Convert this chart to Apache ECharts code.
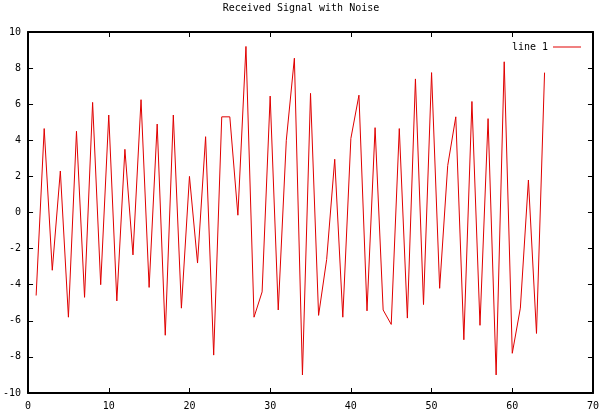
<!DOCTYPE html>
<html>
<head>
<meta charset="utf-8">
<script src="https://cdn.jsdelivr.net/npm/echarts@6/dist/echarts.min.js"></script>
<style>html,body{margin:0;padding:0;background:#fff;}#c{width:602px;height:416px;}</style>
</head>
<body>
<div id="c"></div>
<script>
var titleText = 'Received Signal with Noise';
var seriesName = 'line 1';
var xs = [1,2,3,4,5,6,7,8,9,10,11,12,13,14,15,16,17,18,19,20,21,22,23,24,25,26,27,28,29,30,31,32,
          33,34,35,36,37,38,39,40,41,42,43,44,45,46,47,48,49,50,51,52,53,54,55,56,57,58,59,60,61,62,63,64];
var ys = [-4.6,4.65,-3.2,2.3,-5.8,4.5,-4.7,6.1,-4.0,5.4,-4.9,3.5,-2.35,6.25,-4.15,4.9,
          -6.8,5.4,-5.3,2.0,-2.8,4.2,-7.9,5.3,5.3,-0.15,9.2,-5.8,-4.4,6.45,-5.4,4.0,
          8.55,-9.0,6.6,-5.7,-2.6,2.95,-5.8,4.1,6.5,-5.45,4.7,-5.4,-6.2,4.65,-5.85,7.4,
          -5.1,7.75,-4.2,2.6,5.3,-7.05,6.15,-6.25,5.2,-9.0,8.35,-7.8,-5.3,1.8,-6.7,7.75];
var xMin = 0, xMax = 70, xStep = 10;
var yMin = -10, yMax = 10, yStep = 2;

var data = xs.map(function(x, i){ return [x, ys[i]]; });
var font = 'DejaVu Sans Mono';
var axisLine = {show: true, onZero: false, lineStyle: {color: '#000', width: 2}};
var tick = {show: true, inside: true, length: 5, lineStyle: {color: '#000', width: 1}};
var chart = echarts.init(document.getElementById('c'), null, {renderer: 'canvas'});
chart.setOption({
  animation: false,
  backgroundColor: '#fff',
  title: {text: titleText, left: 'center', top: -2,
          textStyle: {fontFamily: font, fontSize: 10, fontWeight: 'normal', color: '#000'}},
  legend: {data: [{name: seriesName, icon: 'rect'}], right: 16, top: 37, align: 'right',
           itemWidth: 28, itemHeight: 1, itemGap: 10,
           textStyle: {fontFamily: font, fontSize: 10, color: '#000'}},
  grid: {left: 25, right: 5, top: 32, bottom: 23},
  xAxis: [
    {type: 'value', min: xMin, max: xMax, interval: xStep, position: 'bottom',
     axisLine: axisLine, axisTick: tick,
     axisLabel: {fontFamily: font, fontSize: 10, color: '#000', margin: 8}, splitLine: {show: false}},
    {type: 'value', min: xMin, max: xMax, interval: xStep, position: 'top',
     axisLine: axisLine, axisTick: tick,
     axisLabel: {show: false}, splitLine: {show: false}}
  ],
  yAxis: [
    {type: 'value', min: yMin, max: yMax, interval: yStep, position: 'left',
     axisLine: axisLine, axisTick: tick,
     axisLabel: {fontFamily: font, fontSize: 10, color: '#000', margin: 7}, splitLine: {show: false}},
    {type: 'value', min: yMin, max: yMax, interval: yStep, position: 'right',
     axisLine: axisLine, axisTick: tick,
     axisLabel: {show: false}, splitLine: {show: false}}
  ],
  series: [{
    name: seriesName, type: 'line', data: data, symbol: 'none', xAxisIndex: 0, yAxisIndex: 0,
    lineStyle: {color: '#e00000', width: 1}, itemStyle: {color: '#e00000'}
  }]
});
</script>
</body>
</html>
